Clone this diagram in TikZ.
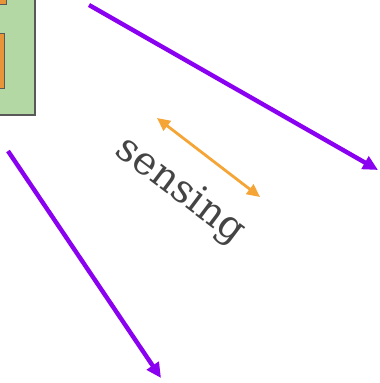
\documentclass[tikz,border=0pt]{standalone}
\usepackage{tikz}
\usepackage{fontspec}
\usetikzlibrary{arrows.meta,
                positioning}
\newfontfamily\labelfont{DejaVu Serif}
\definecolor{boxgreen}{HTML}{B3D8A4}
\definecolor{boxorange}{HTML}{E8953A}
\definecolor{edgegray}{HTML}{595959}
\definecolor{signalviolet}{HTML}{8A00F0}
\definecolor{senseorange}{HTML}{F5A536}
\definecolor{labelgray}{HTML}{444444}
\tikzset{
    unitbox/.style={draw=edgegray, line width=1.8pt, fill=boxgreen, inner sep=0pt, anchor=north west},
    partbox/.style={draw=edgegray, line width=1.2pt, fill=boxorange, inner sep=0pt, anchor=north west},
    signal/.style={signalviolet, line width=4.4pt, -{Triangle[length=15pt,width=14pt]}},
    sensearrow/.style={senseorange, line width=2.8pt, {Triangle[length=13pt,width=12pt]}-{Triangle[length=13pt,width=12pt]}}
}
\begin{document}
\begin{tikzpicture}[x=1pt, y=-1pt]
            % Fix the canvas to the size of the picture
            \useasboundingbox (0,0) rectangle (380,383);

            % The green unit and its orange parts (cut off at the left edge)
            \node[unitbox, minimum width=50pt, minimum height=130pt] (unit) at (-16,-16) {};
            \node[partbox, minimum width=22pt, minimum height=20pt] (parttop) at (-16,-16) {};
            \node[partbox, minimum width=20pt, minimum height=55pt] (partmid) at (-16,33) {};

            % End points of the signal arrows
            \coordinate (sigAstart) at (89,5);
            \coordinate (sigAend) at (378,170);
            \coordinate (sigBstart) at (8,151);
            \coordinate (sigBend) at (161,378);

            % Signal arrows (violet)
            \draw[signal] (sigAstart) -- (sigAend);
            \draw[signal] (sigBstart) -- (sigBend);

            % The sensing label and its double arrow
            \coordinate (senseA) at (157,118);
            \coordinate (senseB) at (260,197);
            \draw[sensearrow] (senseA) -- (senseB);
            \node[labelgray, font=\labelfont\fontsize{39}{43}\selectfont, rotate=-37, inner sep=0pt] (sensing) at (180,191) {sensing};
\end{tikzpicture}
\end{document}
